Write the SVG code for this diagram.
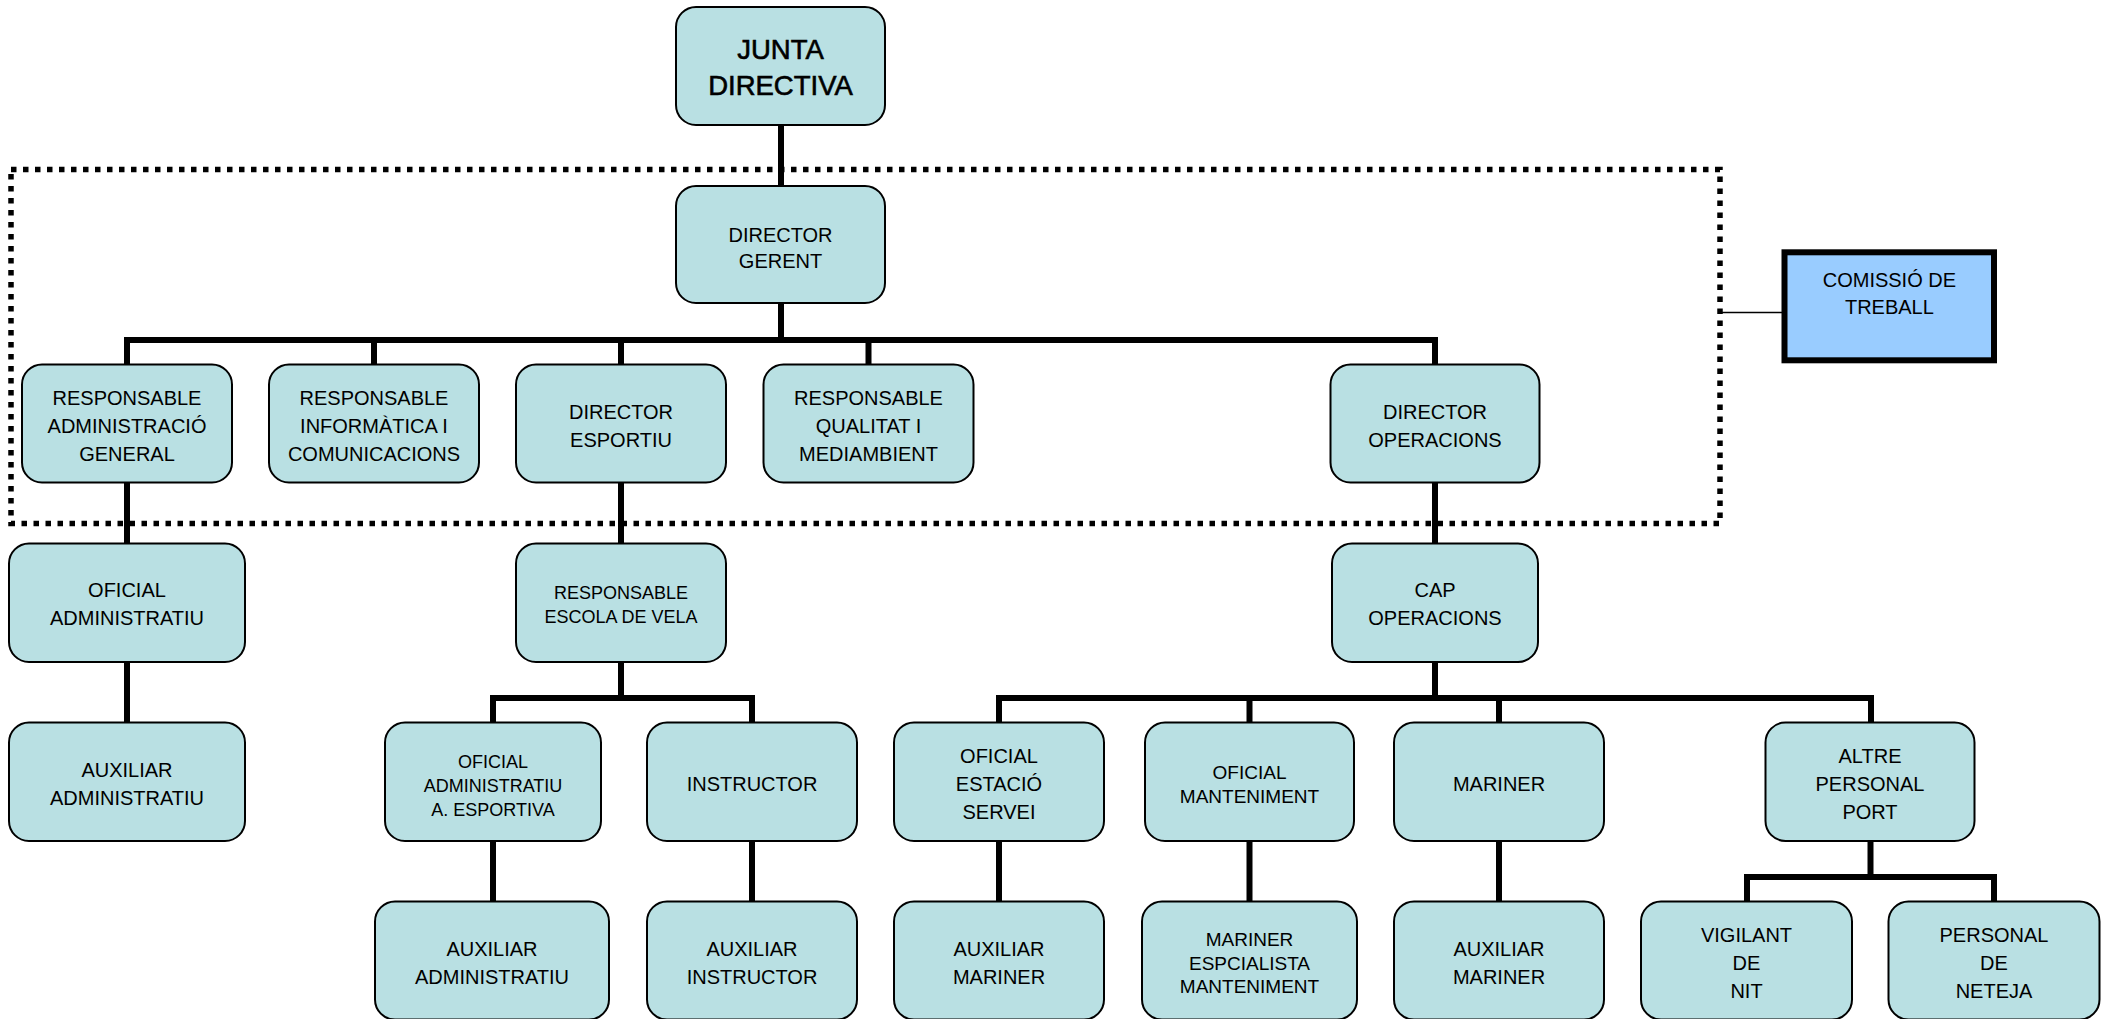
<svg xmlns="http://www.w3.org/2000/svg" width="2109" height="1019" viewBox="0 0 2109 1019">
<defs>
<style>
.box{fill:#B9E0E3;stroke:#000;stroke-width:2}
.com{fill:#99CCFF;stroke:#000;stroke-width:6}
.ln{fill:none;stroke:#000;stroke-width:6;stroke-linejoin:miter;stroke-linecap:butt}
.thin{fill:none;stroke:#000;stroke-width:1.6}
.dot{fill:none;stroke:#000;stroke-width:5.5;stroke-dasharray:5.5 6.5}
text{font-family:"Liberation Sans",Arial,sans-serif;font-size:20px;fill:#000;text-anchor:middle}
.big{font-size:27.5px;stroke:#000;stroke-width:0.6}
.s18{font-size:18px}
.s19{font-size:19px}
</style>
</defs>
<rect width="2109" height="1019" fill="#fff"/>
<rect id="frame" class="dot" x="11" y="169.5" width="1709" height="354"/>
<g id="connectors">
<path class="ln" d="M781 126V186"/>
<path class="ln" d="M781 304V340"/>
<path class="ln" d="M127 364V340H1435V364"/>
<path class="ln" d="M374 340V364M621 340V364M868.5 340V364"/>
<path class="ln" d="M127 483V543M621 483V543M1435 483V543"/>
<path class="ln" d="M127 663V722"/>
<path class="ln" d="M621 663V698"/>
<path class="ln" d="M493 722V698H752V722"/>
<path class="ln" d="M1435 663V698"/>
<path class="ln" d="M999 722V698H1871V722"/>
<path class="ln" d="M1249.5 698V722M1499 698V722"/>
<path class="ln" d="M493 842V901M752 842V901M999 842V901M1249.5 842V901M1499 842V901"/>
<path class="ln" d="M1870.5 842V877"/>
<path class="ln" d="M1747 901V877H1994V901"/>
<path class="thin" d="M1720 312.5H1782"/>
</g>
<g id="junta"><rect class="box" x="676" y="7" width="209" height="118" rx="20"/><text class="big" x="780.5" y="58.5">JUNTA</text><text class="big" x="780.5" y="95">DIRECTIVA</text></g>
<g id="director-gerent"><rect class="box" x="676" y="186" width="209" height="117" rx="20"/><text x="780.5" y="241.7">DIRECTOR</text><text x="780.5" y="268.3">GERENT</text></g>
<g id="comissio"><rect class="com" x="1784.5" y="252.3" width="209.5" height="108"/><text x="1889.4" y="286.7">COMISSIÓ DE</text><text x="1889.4" y="314.3">TREBALL</text></g>
<g id="resp-admin"><rect class="box" x="22" y="364.5" width="210" height="118" rx="20"/><text x="127" y="404.7">RESPONSABLE</text><text x="127" y="432.7">ADMINISTRACIÓ</text><text x="127" y="460.7">GENERAL</text></g>
<g id="resp-info"><rect class="box" x="269" y="364.5" width="210" height="118" rx="20"/><text x="374" y="404.7">RESPONSABLE</text><text x="374" y="432.7">INFORMÀTICA I</text><text x="374" y="460.7">COMUNICACIONS</text></g>
<g id="director-esportiu"><rect class="box" x="516" y="364.5" width="210" height="118" rx="20"/><text x="621" y="419.3">DIRECTOR</text><text x="621" y="446.7">ESPORTIU</text></g>
<g id="resp-qualitat"><rect class="box" x="763.5" y="364.5" width="210" height="118" rx="20"/><text x="868.5" y="404.7">RESPONSABLE</text><text x="868.5" y="432.7">QUALITAT I</text><text x="868.5" y="460.7">MEDIAMBIENT</text></g>
<g id="director-operacions"><rect class="box" x="1330.5" y="364.5" width="209" height="118" rx="20"/><text x="1435" y="419.3">DIRECTOR</text><text x="1435" y="446.7">OPERACIONS</text></g>
<g id="oficial-admin"><rect class="box" x="9" y="543.5" width="236" height="118.5" rx="20"/><text x="127" y="597.3">OFICIAL</text><text x="127" y="625.3">ADMINISTRATIU</text></g>
<g id="resp-escola"><rect class="box" x="516" y="543.5" width="210" height="118.5" rx="20"/><text class="s18" x="621" y="599.3">RESPONSABLE</text><text class="s18" x="621" y="623.3">ESCOLA DE VELA</text></g>
<g id="cap-operacions"><rect class="box" x="1332" y="543.5" width="206" height="118.5" rx="20"/><text x="1435" y="597.3">CAP</text><text x="1435" y="625.3">OPERACIONS</text></g>
<g id="aux-admin-1"><rect class="box" x="9" y="722.5" width="236" height="118.5" rx="20"/><text x="127" y="776.7">AUXILIAR</text><text x="127" y="805">ADMINISTRATIU</text></g>
<g id="oficial-admin-esp"><rect class="box" x="385" y="722.5" width="216" height="118.5" rx="20"/><text class="s18" x="493" y="767.5">OFICIAL</text><text class="s18" x="493" y="791.5">ADMINISTRATIU</text><text class="s18" x="493" y="815.5">A. ESPORTIVA</text></g>
<g id="instructor"><rect class="box" x="647" y="722.5" width="210" height="118.5" rx="20"/><text x="752" y="791">INSTRUCTOR</text></g>
<g id="oficial-estacio"><rect class="box" x="894" y="722.5" width="210" height="118.5" rx="20"/><text x="999" y="763.3">OFICIAL</text><text x="999" y="791">ESTACIÓ</text><text x="999" y="819">SERVEI</text></g>
<g id="oficial-manteniment"><rect class="box" x="1145" y="722.5" width="209" height="118.5" rx="20"/><text class="s19" x="1249.5" y="779.3">OFICIAL</text><text class="s19" x="1249.5" y="803.3">MANTENIMENT</text></g>
<g id="mariner"><rect class="box" x="1394" y="722.5" width="210" height="118.5" rx="20"/><text x="1499" y="791">MARINER</text></g>
<g id="altre-personal"><rect class="box" x="1765.5" y="722.5" width="209" height="118.5" rx="20"/><text x="1870" y="763.3">ALTRE</text><text x="1870" y="791">PERSONAL</text><text x="1870" y="819">PORT</text></g>
<g id="aux-admin-2"><rect class="box" x="375" y="901.5" width="234" height="118" rx="20"/><text x="492" y="956">AUXILIAR</text><text x="492" y="984">ADMINISTRATIU</text></g>
<g id="aux-instructor"><rect class="box" x="647" y="901.5" width="210" height="118" rx="20"/><text x="752" y="956">AUXILIAR</text><text x="752" y="984">INSTRUCTOR</text></g>
<g id="aux-mariner-1"><rect class="box" x="894" y="901.5" width="210" height="118" rx="20"/><text x="999" y="956">AUXILIAR</text><text x="999" y="984">MARINER</text></g>
<g id="mariner-especialista"><rect class="box" x="1142" y="901.5" width="215" height="118" rx="20"/><text class="s19" x="1249.5" y="945.7">MARINER</text><text class="s19" x="1249.5" y="969.5">ESPCIALISTA</text><text class="s19" x="1249.5" y="993.3">MANTENIMENT</text></g>
<g id="aux-mariner-2"><rect class="box" x="1394" y="901.5" width="210" height="118" rx="20"/><text x="1499" y="956">AUXILIAR</text><text x="1499" y="984">MARINER</text></g>
<g id="vigilant"><rect class="box" x="1641" y="901.5" width="211" height="118" rx="20"/><text x="1746.5" y="941.7">VIGILANT</text><text x="1746.5" y="970">DE</text><text x="1746.5" y="997.7">NIT</text></g>
<g id="personal-neteja"><rect class="box" x="1888.5" y="901.5" width="211" height="118" rx="20"/><text x="1994" y="941.7">PERSONAL</text><text x="1994" y="970">DE</text><text x="1994" y="997.7">NETEJA</text></g>
</svg>
